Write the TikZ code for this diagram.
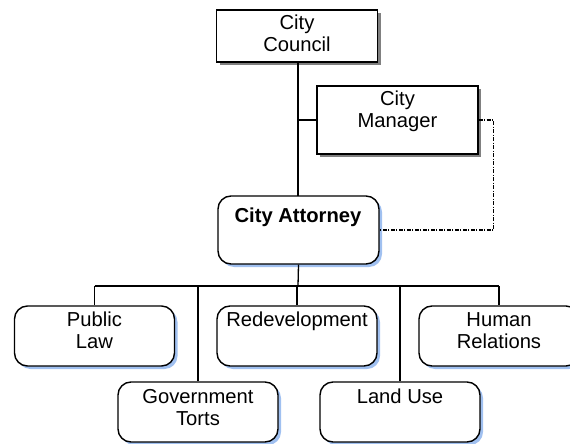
\documentclass[tikz,border=0pt]{standalone}
\usepackage{fontspec}
\setmainfont{Liberation Sans}
\usetikzlibrary{shadows}
\definecolor{shgray}{RGB}{128,128,128}
\definecolor{shblue}{RGB}{160,192,240}
\tikzset{
  sqbox/.style={draw, line width=1.4pt, fill=white, minimum width=161pt, inner sep=0pt,
    drop shadow={shadow xshift=3pt, shadow yshift=-3pt, fill=shgray, opacity=1}},
  rdbox/.style={draw, line width=1.4pt, fill=white, rounded corners=13pt, minimum width=160pt, inner sep=0pt,
    drop shadow={shadow xshift=3pt, shadow yshift=-3pt, fill=shblue, opacity=1}},
  lbl/.style={anchor=north, inner sep=0pt, align=center, font=\fontsize{20.2pt}{22.5pt}\selectfont},
  conn/.style={line width=1.3pt},
  dashconn/.style={line width=1.1pt, dash pattern=on 4pt off 1.5pt on 1pt off 1.5pt}
}
\begin{document}
\begin{tikzpicture}[x=1pt,y=-1pt]
\useasboundingbox (0,0) rectangle (570,444);
% top boxes
\node[sqbox, minimum height=52pt] (council) at (297,36) {};
\node[sqbox, minimum height=68pt] (manager) at (397.5,120) {};
\node[rdbox, minimum width=161pt, minimum height=68pt] (attorney) at (298.5,230) {};
% bottom boxes
\node[rdbox, minimum height=60pt] (public) at (94.5,336) {};
\node[rdbox, minimum height=60pt] (redev) at (297,336) {};
\node[rdbox, minimum height=60pt] (human) at (499,336) {};
\node[rdbox, minimum height=60pt] (gov) at (198,412) {};
\node[rdbox, minimum height=60pt] (land) at (400,412) {};
% labels
\node[lbl] (councilT) at ([yshift=-4pt]council.north) {\strut City\\Council};
\node[lbl] (managerT) at ([yshift=-4pt]manager.north) {\strut City\\Manager};
\node[lbl, font=\fontsize{20.2pt}{22.5pt}\selectfont\bfseries] (attorneyT) at ([yshift=-11pt]attorney.north) {\strut\kern-1pt City Attorney};
\node[lbl] (publicT) at ([yshift=-5pt]public.north) {\strut Public\\Law};
\node[lbl] (redevT) at ([yshift=-5pt]redev.north) {\strut Redevelopment};
\node[lbl] (humanT) at ([yshift=-5pt]human.north) {\strut Human\\Relations};
\node[lbl] (govT) at ([yshift=-6pt]gov.north) {\strut Government\\Torts};
\node[lbl] (landT) at ([yshift=-6pt]land.north) {\strut Land Use};
% connectors
\coordinate (trunkTop) at (298,62);
\coordinate (mgrJoin) at (298,120);
\coordinate (busMid) at (298,286);
\coordinate (busL) at (94.5,286);
\coordinate (busR) at (499,286);
\coordinate (busG) at (198,286);
\coordinate (busLand) at (400,286);
\coordinate (busRedev) at (297,286);
\draw[conn] (trunkTop) -- (298,196);
\draw[conn] (mgrJoin) -- (manager.west);
\draw[conn] (attorney.south) -- (busMid);
\draw[conn] (busL) -- (busR);
\draw[conn] (busL) -- (public.north);
\draw[conn] (busRedev) -- (redev.north);
\draw[conn] (busR) -- (human.north);
\draw[conn] (busG) -- (gov.north);
\draw[conn] (busLand) -- (land.north);
\draw[dashconn] (manager.east) -- ++(15,0) |- (attorney.east);
\end{tikzpicture}
\end{document}
